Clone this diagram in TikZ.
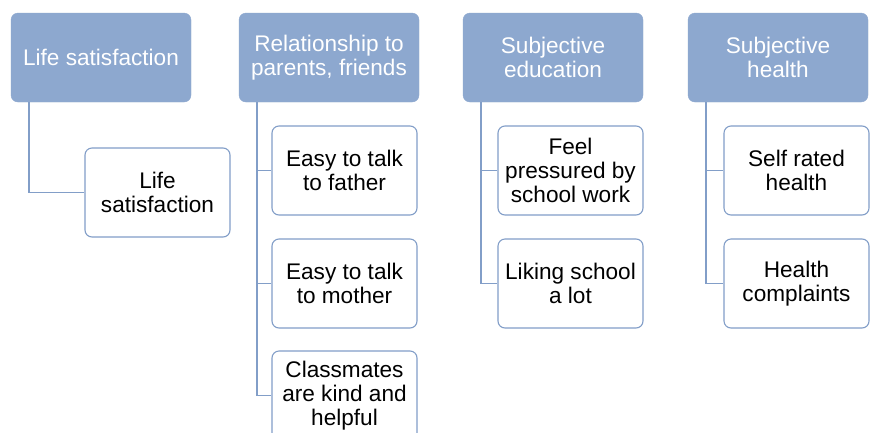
\documentclass[tikz,border=0pt]{standalone}
\usepackage{fontspec}
\setmainfont{Liberation Sans}
\usepackage{tikz}

\definecolor{headblue}{RGB}{141,168,207}
\definecolor{lineblue}{RGB}{130,158,200}

\tikzset{
  headbox/.style={draw=headblue, fill=headblue, rounded corners=7pt, text=white,
    minimum width=180pt, minimum height=89pt, align=center, inner sep=2pt,
    font=\fontsize{22.6}{24}\selectfont},
  itembox/.style={draw=lineblue, line width=1.1pt, fill=white, rounded corners=7pt,
    minimum width=145pt, minimum height=89pt, align=center, inner sep=2pt,
    font=\fontsize{22.6}{24}\selectfont},
  link/.style={draw=lineblue, line width=1.2pt}
}

\begin{document}
\begin{tikzpicture}[x=1pt, y=-1pt]
    \clip(0, 0) rectangle (875, 432);
    \fill[white](0, 0) rectangle (875, 432);

    % headers
    \node[headbox] (life) at(101, 57.5){Life satisfaction};
    \node[headbox] (rel) at(329, 57.5){Relationship to\\parents, friends};
    \node[headbox] (edu) at(553, 57.5){Subjective\\education};
    \node[headbox] (hea) at(778, 57.5){Subjective\\health};

    \coordinate (lifet) at(29, 102);
    \coordinate (relt) at(257, 102);
    \coordinate (edut) at(481, 102);
    \coordinate (heat) at(706, 102);

    % items
    \node[itembox] (life1) at(157.5, 192.5){Life\\satisfaction};

    \node[itembox] (rel1) at(344.5, 170.5){Easy to talk\\to father};
    \node[itembox] (rel2) at(344.5, 283.5){Easy to talk\\to mother};
    \node[itembox] (rel3) at(344.5, 395.5){Classmates\\are kind and\\helpful};

    \node[itembox] (edu1) at(570.5, 170.5){Feel\\pressured by\\school work};
    \node[itembox] (edu2) at(570.5, 283.5){Liking school\\a lot};

    \node[itembox] (hea1) at(796.5, 170.5){Self rated\\health};
    \node[itembox] (hea2) at(796.5, 283.5){Health\\complaints};

    % connectors
    \draw[link](lifet) |- (life1.west);

    \draw[link](relt) |- (rel1.west);
    \draw[link](relt) |- (rel2.west);
    \draw[link](relt) |- (rel3.west);

    \draw[link](edut) |- (edu1.west);
    \draw[link](edut) |- (edu2.west);

    \draw[link](heat) |- (hea1.west);
    \draw[link](heat) |- (hea2.west);

  \end{tikzpicture}
\end{document}
